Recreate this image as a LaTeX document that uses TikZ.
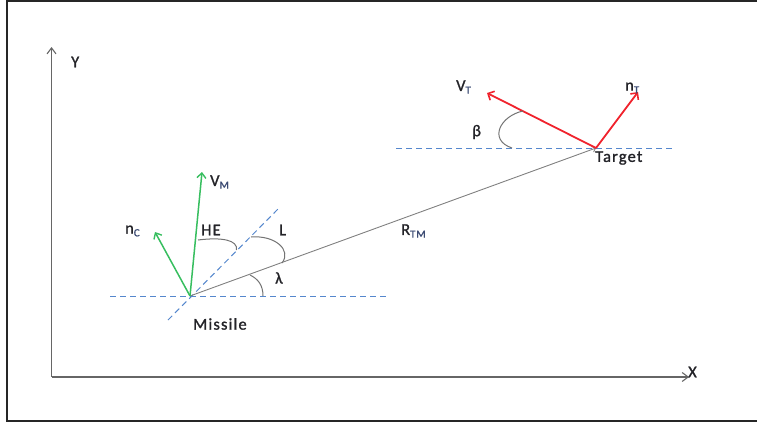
\documentclass[tikz,border=0pt]{standalone}
\usepackage{fontspec}
\setmainfont{Carlito}
\newfontfamily\lblfont[LetterSpace=7,FakeBold=1.2]{Carlito}
\usetikzlibrary{arrows.meta}
\definecolor{gdash}{RGB}{85,135,205}
\definecolor{vgreen}{RGB}{55,190,95}
\definecolor{vred}{RGB}{240,35,45}
\definecolor{txt}{RGB}{35,35,40}
\definecolor{subc}{RGB}{60,75,115}
\newcommand{\subs}[1]{\raisebox{-0.35ex}{\fontsize{11}{12}\selectfont\color{subc}#1}}
\begin{document}
\begin{tikzpicture}[x=1pt,y=-1pt,
  lbl/.style={font=\lblfont\fontsize{16.5}{18}\selectfont, text=txt, inner sep=0pt, anchor=west},
  guide/.style={draw=gdash, line width=1pt, dash pattern=on 6pt off 4pt},
  axis/.style={draw=black!60, line width=1.3pt, -{Straight Barb[length=6pt,width=9pt,line width=1.1pt]}},
  gvec/.style={draw=vgreen, line width=1.5pt, -{Straight Barb[length=5pt,width=9pt,line width=1.4pt]}},
  rvec/.style={draw=vred, line width=1.8pt, -{Straight Barb[length=5pt,width=10pt,line width=1.6pt]}},
  los/.style={draw=black!50, line width=0.9pt, -{Straight Barb[length=3pt,width=6pt]}},
  angarc/.style={draw=black!55, line width=1pt}]
\useasboundingbox (0,0) rectangle (757,423);
% frame
\draw[line width=2pt, black!85] (757,1) -- (6.5,1) -- (6.5,420.5) -- (757,420.5);
% axes
\coordinate (O) at (51.5,377);
\coordinate (Ytip) at (51.5,47);
\coordinate (Xtip) at (689,377);
\draw[axis] (O) -- (Ytip);
\draw[axis] (O) -- (Xtip);
\node[lbl] (ylab) at (71,62) {Y};
\node[lbl] (xlab) at (688,372) {X};
% points
\coordinate (M) at (190,296);
\coordinate (T) at (596,148);
% guide lines
\coordinate (mh1) at (110,296);
\coordinate (mh2) at (386,296);
\coordinate (md1) at (168,320);
\coordinate (md2) at (279,208);
\coordinate (th1) at (396,148);
\coordinate (th2) at (672,148);
\draw[guide] (mh1) -- (mh2);
\draw[guide] (md1) -- (md2);
\draw[guide] (th1) -- (th2);
% LOS
\draw[los] (M) -- (T);
% missile vectors
\coordinate (VM) at (202,172);
\coordinate (NC) at (155,232);
\draw[gvec] (M) -- (VM);
\draw[gvec] (M) -- (NC);
% target vectors
\coordinate (VT) at (487,93);
\coordinate (NT) at (638,92);
\draw[rvec] (T) -- (VT);
\draw[rvec] (T) -- (NT);
% angle arcs
\draw[angarc] (263,296) .. controls (263,285) and (258,279) .. (250,275);
\draw[angarc] (251,237) .. controls (275,235) and (292,250) .. (282,263);
\draw[angarc] (198,240) .. controls (222,237) and (238,240) .. (236.5,250);
\draw[angarc] (523,111) .. controls (500,116) and (488,140) .. (512,148);
% labels
\node[lbl] (lvm) at (210,182) {V\subs{M}};
\node[lbl] (lnc) at (125,231) {n\subs{C}};
\node[lbl] (lhe) at (201,230) {HE};
\node[lbl] (lL) at (279,230) {L};
\node[lbl] (llam) at (275,278) {λ};
\node[lbl] (lrtm) at (401,231) {R\subs{TM}};
\node[lbl] (lvt) at (456,87) {V\subs{T}};
\node[lbl] (lnt) at (625,88) {n\subs{T}};
\node[lbl] (lbeta) at (472,132) {β};
\node[lbl] (ltarget) at (595,158) {Target};
\node[lbl] (lmissile) at (193,324) {Missile};
\end{tikzpicture}
\end{document}
